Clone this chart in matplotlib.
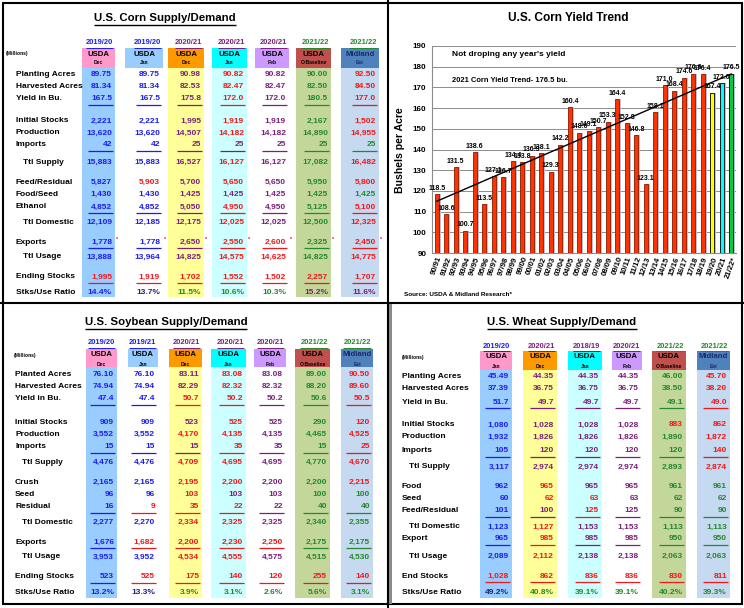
import numpy as np
import matplotlib
matplotlib.use("Agg")
import matplotlib.pyplot as plt
from matplotlib.patches import Rectangle

plt.rcParams["font.family"] = ["Liberation Sans", "DejaVu Sans"]
plt.rcParams["font.weight"] = "bold"

# ---------------- corn supply / demand ----------------
corn_years = ["2019/20", "2019/20", "2020/21", "2020/21", "2020/21", "2021/22", "2021/22"]
corn_heads = ["USDA", "USDA", "USDA", "USDA", "USDA", "USDA", "Midland"]
corn_subs = ["Dec", "Jan", "Dec", "Jan", "Feb", "O-Baseline", "Est"]
corn_labels = ["Planting Acres", "Harvested Acres", "Yield in Bu.", "Initial Stocks", "Production",
               "Imports", "Ttl Supply", "Feed/Residual", "Food/Seed", "Ethanol", "Ttl Domestic",
               "Exports", "Ttl Usage", "Ending Stocks", "Stks/Use Ratio"]
corn_planting = ["89.75", "89.75", "90.98", "90.82", "90.82", "90.00", "92.50"]
corn_harvested = ["81.34", "81.34", "82.53", "82.47", "82.47", "82.50", "84.50"]
corn_yield = ["167.5", "167.5", "175.8", "172.0", "172.0", "180.5", "177.0"]
corn_initial = ["2,221", "2,221", "1,995", "1,919", "1,919", "2,167", "1,502"]
corn_production = ["13,620", "13,620", "14,507", "14,182", "14,182", "14,890", "14,955"]
corn_imports = ["42", "42", "25", "25", "25", "25", "25"]
corn_supply = ["15,883", "15,883", "16,527", "16,127", "16,127", "17,082", "16,482"]
corn_feed = ["5,827", "5,903", "5,700", "5,650", "5,650", "5,950", "5,800"]
corn_foodseed = ["1,430", "1,430", "1,425", "1,425", "1,425", "1,425", "1,425"]
corn_ethanol = ["4,852", "4,852", "5,050", "4,950", "4,950", "5,125", "5,100"]
corn_domestic = ["12,109", "12,185", "12,175", "12,025", "12,025", "12,500", "12,325"]
corn_exports = ["1,778", "1,778", "2,650", "2,550", "2,600", "2,325", "2,450"]
corn_usage = ["13,888", "13,964", "14,825", "14,575", "14,625", "14,825", "14,775"]
corn_ending = ["1,995", "1,919", "1,702", "1,552", "1,502", "2,257", "1,707"]
corn_ratio = ["14.4%", "13.7%", "11.5%", "10.6%", "10.3%", "15.2%", "11.6%"]

# ---------------- soybean supply / demand ----------------
soy_years = ["2019/20", "2019/21", "2020/21", "2020/21", "2020/21", "2021/22", "2021/22"]
soy_heads = ["USDA", "USDA", "USDA", "USDA", "USDA", "USDA", "Midland"]
soy_subs = ["Dec", "Jan", "Dec", "Jan", "Feb", "O-Baseline", "Est"]
soy_labels = ["Planted Acres", "Harvested Acres", "Yield in Bu.", "Initial Stocks", "Production",
              "Imports", "Ttl Supply", "Crush", "Seed", "Residual", "Ttl Domestic",
              "Exports", "Ttl Usage", "Ending Stocks", "Stks/Use Ratio"]
soy_planted = ["76.10", "76.10", "83.11", "83.08", "83.08", "89.00", "90.50"]
soy_harvested = ["74.94", "74.94", "82.29", "82.32", "82.32", "88.20", "89.60"]
soy_yield = ["47.4", "47.4", "50.7", "50.2", "50.2", "50.6", "50.5"]
soy_initial = ["909", "909", "523", "525", "525", "290", "120"]
soy_production = ["3,552", "3,552", "4,170", "4,135", "4,135", "4,465", "4,525"]
soy_imports = ["15", "15", "15", "35", "35", "15", "25"]
soy_supply = ["4,476", "4,476", "4,709", "4,695", "4,695", "4,770", "4,670"]
soy_crush = ["2,165", "2,165", "2,195", "2,200", "2,200", "2,200", "2,215"]
soy_seed = ["96", "96", "103", "103", "103", "100", "100"]
soy_residual = ["16", "9", "35", "22", "22", "40", "40"]
soy_domestic = ["2,277", "2,270", "2,334", "2,325", "2,325", "2,340", "2,355"]
soy_exports = ["1,676", "1,682", "2,200", "2,230", "2,250", "2,175", "2,175"]
soy_usage = ["3,953", "3,952", "4,534", "4,555", "4,575", "4,515", "4,530"]
soy_ending = ["523", "525", "175", "140", "120", "255", "140"]
soy_ratio = ["13.2%", "13.3%", "3.9%", "3.1%", "2.6%", "5.6%", "3.1%"]

# ---------------- wheat supply / demand ----------------
wheat_years = ["2019/20", "2020/21", "2018/19", "2020/21", "2021/22", "2021/22"]
wheat_heads = ["USDA", "USDA", "USDA", "USDA", "USDA", "Midland"]
wheat_subs = ["Jan", "Dec", "Jan", "Feb", "O-Baseline", "Est"]
wheat_labels = ["Planting Acres", "Harvested Acres", "Yield in Bu.", "Initial Stocks", "Production",
                "Imports", "Ttl Supply", "Food", "Seed", "Feed/Residual", "Ttl Domestic",
                "Export", "Ttl Usage", "End Stocks", "Stks/Use Ratio"]
wheat_planting = ["45.49", "44.35", "44.35", "44.35", "46.00", "45.70"]
wheat_harvested = ["37.39", "36.75", "36.75", "36.75", "38.50", "38.20"]
wheat_yield = ["51.7", "49.7", "49.7", "49.7", "49.1", "49.0"]
wheat_initial = ["1,080", "1,028", "1,028", "1,028", "883", "862"]
wheat_production = ["1,932", "1,826", "1,826", "1,826", "1,890", "1,872"]
wheat_imports = ["105", "120", "120", "120", "120", "140"]
wheat_supply = ["3,117", "2,974", "2,974", "2,974", "2,893", "2,874"]
wheat_food = ["962", "965", "965", "965", "961", "961"]
wheat_seed = ["60", "62", "63", "63", "62", "62"]
wheat_feed = ["101", "100", "125", "125", "90", "90"]
wheat_domestic = ["1,123", "1,127", "1,153", "1,153", "1,113", "1,113"]
wheat_export = ["965", "985", "985", "985", "950", "950"]
wheat_usage = ["2,089", "2,112", "2,138", "2,138", "2,063", "2,063"]
wheat_end = ["1,028", "862", "836", "836", "830", "811"]
wheat_ratio = ["49.2%", "40.8%", "39.1%", "39.1%", "40.2%", "39.3%"]

# ---------------- corn yield trend ----------------
yield_years = ["90/91", "91/92", "92/93", "93/94", "94/95", "95/96", "96/97", "97/98", "98/99", "99/00",
               "00/01", "01/02", "02/03", "03/04", "04/05", "05/06", "06/07", "07/08", "08/09", "09/10",
               "10/11", "11/12", "12/13", "13/14", "14/15", "15/16", "16/17", "17/18", "18/19", "19/20",
               "20/21", "21/22*"]
yield_values = [118.5, 108.6, 131.5, 100.7, 138.6, 113.5, 127.1, 126.7, 134.4, 133.8,
                136.9, 138.1, 129.3, 142.2, 160.4, 148.0, 149.1, 150.7, 153.3, 164.4,
                152.8, 146.8, 123.1, 158.1, 171.0, 168.4, 174.6, 176.6, 176.4, 167.4,
                172.0, 176.5]
trend_ends = [115.0, 176.5]

# ---------------- styling ----------------
TXT = {"B": "#1c1cf0", "N": "#22227a", "P": "#7b1f7b", "R": "#f01818", "G": "#23892a"}
HEAD = {"pink": "#ff99cc", "lblue": "#99ccff", "orange": "#ff9900", "cyan": "#00ffff",
        "lav": "#cc99ff", "brick": "#c0504d", "steel": "#4f81bd"}
SHADE = {"lblue": "#99ccff", "yellow": "#ffff99", "cyan": "#ccffff", "olive": "#c4d79b",
         "steel": "#c5d9f1", None: None}

corn_colors = ["BBPRPGR", "BBPRPGR", "BBPRPGR", "BBPRPGR", "BBPRPGR", "BBPPPGG", "BBPRPGR",
               "BRPRPGR", "BBPPPGG", "BBPRPGR", "BBPRPGR", "BBPRRGR", "BBPRRGR", "RRRRRRR",
               "BNGGGPP"]
soy_colors = ["BBPRPGR", "BBPRPGR", "BBRRPGR", "BBPRPGR", "BBRRPGR", "BBPRPGR", "BBRRPGR",
              "BBRRPGR", "BBRPPGG", "BRRRPGG", "BBRRPGG", "BRRRRGG", "BBRRPGG", "BRRRRRR",
              "BNGGGGG"]
wheat_colors = ["BPPPGR", "BPPPGR", "BPPPGR", "BPPPRR", "BPPPGR", "BPPPGR", "BPPPGR",
                "BRPPGG", "BRRPGG", "BPRPGG", "BRPPGG", "BRPPGG", "BRPPGG", "RRRRRR",
                "NGGGGG"]

fig = plt.figure(figsize=(7.44, 6.08), dpi=100)
bg = fig.add_axes([0, 0, 1, 1])
bg.set_xlim(0, 744)
bg.set_ylim(608, 0)
bg.axis("off")
renderer = fig.canvas.get_renderer()


def underline_text(t, color, lw=0.8, dy=1.5):
    bb = t.get_window_extent(renderer=renderer)
    (x0, y0), (x1, y1) = bg.transData.inverted().transform([[bb.x0, bb.y0], [bb.x1, bb.y1]])
    bg.plot([x0, x1], [y0 + dy, y0 + dy], color=color, lw=lw, solid_capstyle="butt")


def draw_table(title, title_xy, millions_xy, cols, years, year_c, heads, head_c, subs, shades,
               hdr, shade_bottom, labels, rows, colors, row_y, label_x, stars=()):
    t = bg.text(title_xy[0], title_xy[1], title, fontsize=8.2, ha="center", va="center")
    underline_text(t, "black", lw=1.0, dy=1.5)
    bg.text(millions_xy[0], millions_xy[1], "(Millions)", fontsize=3.6, va="center")
    year_y, box_top, box_bot = hdr
    for j, (l, r) in enumerate(cols):
        if SHADE[shades[j]]:
            bg.add_patch(Rectangle((l, box_bot), r - l, shade_bottom - box_bot,
                                   color=SHADE[shades[j]], lw=0, zorder=0))
        bg.add_patch(Rectangle((l, box_top), r - l, box_bot - box_top,
                               color=HEAD[head_c[j]], lw=0, zorder=0))
        yt = bg.text(r - 2, year_y, years[j], fontsize=5.4, ha="right", va="center",
                     color=TXT[year_c[j]])
        underline_text(yt, TXT[year_c[j]], lw=0.7, dy=1.2)
        hc = "#1a2a6c" if heads[j] == "Midland" else "black"
        bg.text((l + r) / 2, box_top + 6, heads[j], fontsize=5.6, ha="center", va="center", color=hc)
        bg.text((l + r) / 2, box_top + 15, subs[j], fontsize=3.6, ha="center", va="center", color=hc)
    for i, (lab, vals) in enumerate(zip(labels, rows)):
        y = row_y[i]
        indent = 7 if lab.startswith("Ttl") else 0
        bg.text(label_x + indent, y, lab, fontsize=6.0, ha="left", va="center")
        for j, (l, r) in enumerate(cols):
            c = TXT[colors[i][j]]
            bg.text(r - 3, y, vals[j], fontsize=6.0, ha="right", va="center", color=c)
            if i in (2, 5, 9, 11, 13):
                bg.plot([r - 27, r - 2], [y + 6, y + 6], color=c, lw=0.9, solid_capstyle="butt")
            if i in stars:
                bg.text(r + 0.5, y - 3, "*", fontsize=4, ha="left", va="center", color="#f01818")


corn_rows = [corn_planting, corn_harvested, corn_yield, corn_initial, corn_production, corn_imports,
             corn_supply, corn_feed, corn_foodseed, corn_ethanol, corn_domestic, corn_exports,
             corn_usage, corn_ending, corn_ratio]
soy_rows = [soy_planted, soy_harvested, soy_yield, soy_initial, soy_production, soy_imports,
            soy_supply, soy_crush, soy_seed, soy_residual, soy_domestic, soy_exports,
            soy_usage, soy_ending, soy_ratio]
wheat_rows = [wheat_planting, wheat_harvested, wheat_yield, wheat_initial, wheat_production,
              wheat_imports, wheat_supply, wheat_food, wheat_seed, wheat_feed, wheat_domestic,
              wheat_export, wheat_usage, wheat_end, wheat_ratio]

seven_heads = ["pink", "lblue", "orange", "cyan", "lav", "brick", "steel"]
seven_shades = ["lblue", None, "yellow", "cyan", None, "olive", "steel"]
seven_years = "BBPPPGG"

draw_table("U.S. Corn Supply/Demand", (165, 18), (6, 53),
           [(82, 115), (125, 163), (168, 204), (212, 247), (255, 289), (296, 331), (341, 379)],
           corn_years, seven_years, corn_heads, seven_heads, corn_subs, seven_shades,
           (43, 48, 68), 297, corn_labels, corn_rows, corn_colors,
           [75, 87, 99, 121, 133, 145, 162, 182, 194, 207, 222, 242, 257, 277, 292], 16, stars=(11,))

draw_table("U.S. Soybean Supply/Demand", (166, 322), (14, 356),
           [(86, 117), (128, 158), (169, 202), (211, 246), (254, 286), (295, 330), (341, 373)],
           soy_years, seven_years, soy_heads, seven_heads, soy_subs, seven_shades,
           (343, 349, 367), 598, soy_labels, soy_rows, soy_colors,
           [374, 387, 399, 422, 434, 447, 462, 482, 494, 507, 522, 542, 557, 577, 592], 15)

draw_table("U.S. Wheat Supply/Demand", (562, 322), (402, 358),
           [(480, 512), (523, 557), (568, 602), (612, 642), (652, 686), (697, 730)],
           wheat_years, "BPPPGG", wheat_heads, ["pink", "orange", "cyan", "lav", "brick", "steel"],
           wheat_subs, ["lblue", "yellow", "cyan", None, "olive", "steel"],
           (346, 351, 370), 598, wheat_labels, wheat_rows, wheat_colors,
           [377, 389, 402, 425, 437, 451, 467, 487, 499, 511, 527, 539, 556, 576, 592], 402)

# panel frames
bg.add_patch(Rectangle((3, 3), 739, 601, fill=False, ec="black", lw=1.5, zorder=5))
bg.plot([388, 388], [0, 608], color="black", lw=1.5, zorder=5)
bg.plot([0, 744], [303, 303], color="black", lw=1.5, zorder=5)
bg.add_patch(Rectangle((389, 304), 3, 300, color="#8a8a8a", lw=0, zorder=5))

# ---------------- corn yield bar chart ----------------
bg.text(568, 18, "U.S. Corn Yield Trend", fontsize=8.6, ha="center", va="center")
bg.text(400, 150, "Bushels per Acre", fontsize=7.6, rotation=90, ha="center", va="center")
bg.text(452, 54, "Not droping any year's yield", fontsize=6.0, ha="left", va="center")
bg.text(452, 80, "2021 Corn Yield Trend- 176.5 bu.", fontsize=5.4, ha="left", va="center")
bg.text(404, 295, "Source: USDA & Midland Research*", fontsize=4.6, ha="left", va="center")

ax = fig.add_axes([432 / 744, 1 - 253 / 608, 304 / 744, 207 / 608])
ax.set_facecolor("none")
x = np.arange(len(yield_values))
bar_colors = ["#ff3300"] * (len(yield_values) - 3) + ["#ffff00", "#00ffff", "#00cc44"]
edge_colors = ["#8b1a00"] * (len(yield_values) - 3) + ["black"] * 3
ax.bar(x + 0.22, yield_values, width=0.42, color="#b8c2d6", zorder=2)
ax.bar(x, yield_values, width=0.42, color=bar_colors, edgecolor=edge_colors, linewidth=0.6, zorder=3)
ax.plot([x[0], x[-1]], trend_ends, color="black", lw=1.0, zorder=4)
for xi, v in zip(x, yield_values):
    ax.text(xi, v + 1.2, f"{v:.1f}", fontsize=5.0, ha="center", va="bottom", zorder=5)

ax.set_ylim(90, 190)
ax.set_xlim(-0.5, len(yield_values) - 0.5)
ax.set_yticks(np.arange(90, 191, 10))
ax.set_xticks(x)
ax.set_xticklabels(yield_years, rotation=70, ha="right", rotation_mode="anchor", fontsize=5.6)
ax.tick_params(axis="y", labelsize=5.8, length=0, pad=4)
ax.tick_params(axis="x", length=0, pad=2)
ax.yaxis.grid(True, color="#8c8c8c", lw=0.7, zorder=0)
ax.set_axisbelow(True)
for s in ("top", "right"):
    ax.spines[s].set_visible(False)
ax.spines["left"].set_color("#8c8c8c")
ax.spines["bottom"].set_color("#8c8c8c")

fig.savefig("out.png", dpi=100)
